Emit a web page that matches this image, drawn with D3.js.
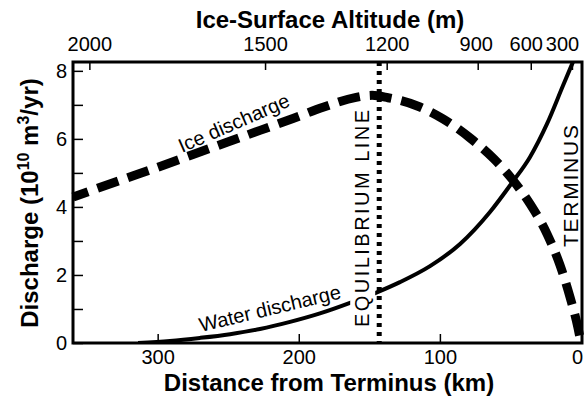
<!DOCTYPE html>
<html>
<head>
<meta charset="utf-8">
<script src="https://cdn.jsdelivr.net/npm/d3@7"></script>
<style>
  html, body { margin: 0; padding: 0; background: #fff; }
  svg { display: block; font-family: "Liberation Sans", Arial, Helvetica, sans-serif; }
</style>
</head>
<body>
<svg id="chart" width="586" height="406"></svg>
<script>
// ---- data ----
// distance from terminus (km) and ice discharge (10^10 m^3/yr)
const iceDistance = [360, 345.8, 321.7, 298.3, 275, 250.9, 227.5, 204.1, 182.8, 159.4, 148.1, 136.8, 115.5, 97.8, 78.7, 61.7, 48.9, 36.1, 24.1, 14.9, 7.8, 2.1, 0];
const iceDischarge = [4.29, 4.50, 4.85, 5.19, 5.54, 5.90, 6.25, 6.60, 6.93, 7.22, 7.28, 7.21, 6.96, 6.59, 6.03, 5.41, 4.82, 4.09, 3.21, 2.29, 1.35, 0.44, 0.0];
// distance from terminus (km) and water discharge (10^10 m^3/yr)
const waterDistance = [313.9, 291.3, 270.0, 248.7, 227.5, 206.2, 185.0, 163.7, 144.6, 128.3, 107.0, 85.7, 64.5, 48.9, 36.1, 24.1, 12.8, 5.7];
const waterDischarge = [0.0, 0.06, 0.15, 0.26, 0.41, 0.62, 0.87, 1.18, 1.49, 1.79, 2.26, 2.91, 3.85, 4.71, 5.47, 6.44, 7.56, 8.26];
// axis ticks
const distanceTicks = [300, 200, 100, 0];
const dischargeTicks = [0, 1, 2, 3, 4, 5, 6, 7, 8];
const altitudeLabels = ["2000", "1500", "1200", "900", "600", "300"];
const altitudeTickDistance = [348.4, 223.9, 137.7, 73.2, 35.6, 6.4];
const equilibriumDistance = 143;

// ---- layout ----
const svg = d3.select("#chart");
const L = 73, R = 582, T = 62, B = 343;
const x = d3.scaleLinear().domain([360, 0]).range([L, 581]);
const y = d3.scaleLinear().domain([0, 8.26]).range([B, T]);
const tickFont = "20px";

svg.append("defs").append("clipPath").attr("id", "plot")
  .append("rect").attr("x", L).attr("y", T).attr("width", R - L).attr("height", B - T);

// curves
const line = d3.line().curve(d3.curveMonotoneX)
  .x(d => x(d[0])).y(d => y(d[1]));
const water = waterDistance.map((d, i) => [d, waterDischarge[i]]);
const ice = iceDistance.map((d, i) => [d, iceDischarge[i]]);

svg.append("path").attr("d", line(water)).attr("fill", "none")
  .attr("stroke", "#000").attr("stroke-width", 4).attr("clip-path", "url(#plot)");

svg.append("path").attr("d", line(ice)).attr("fill", "none")
  .attr("stroke", "#000").attr("stroke-width", 9)
  .attr("stroke-dasharray", "22,10").attr("stroke-dashoffset", 6);

// knock-out label: EQUILIBRIUM LINE
const xe = x(equilibriumDistance);
svg.append("rect").attr("x", xe - 29).attr("y", 106).attr("width", 25).attr("height", 226).attr("fill", "#fff");
svg.append("text")
  .attr("transform", `translate(${xe - 10.5},${218.5}) rotate(-90)`)
  .attr("text-anchor", "middle").attr("font-size", "20px")
  .attr("textLength", 217).attr("lengthAdjust", "spacing")
  .text("EQUILIBRIUM LINE");

// equilibrium dotted line
svg.append("line").attr("x1", xe).attr("x2", xe).attr("y1", T).attr("y2", B)
  .attr("stroke", "#000").attr("stroke-width", 5).attr("stroke-dasharray", "4,5");

// TERMINUS label
svg.append("text")
  .attr("transform", `translate(578,186) rotate(-90)`)
  .attr("text-anchor", "middle").attr("font-size", "21px")
  .attr("textLength", 122).attr("lengthAdjust", "spacing")
  .text("TERMINUS");

// curve labels
svg.append("text").attr("transform", "translate(182,153) rotate(-23.5)")
  .attr("font-size", "20px").attr("textLength", 119).attr("lengthAdjust", "spacing")
  .text("Ice discharge");
svg.append("text").attr("transform", "translate(201,332) rotate(-13.5)")
  .attr("font-size", "20px").attr("textLength", 145).attr("lengthAdjust", "spacing")
  .text("Water discharge");

// axes
const yAxis = d3.axisLeft(y).tickValues(dischargeTicks).tickSize(-10).tickPadding(6)
  .tickFormat(d => d % 2 === 0 ? d : "");
const gy = svg.append("g").attr("transform", `translate(${L},0)`).call(yAxis);

const xAxis = d3.axisBottom(x).tickValues(distanceTicks).tickSize(-9).tickPadding(7)
  .tickFormat(d3.format("d"));
const gx = svg.append("g").attr("transform", `translate(0,${B})`).call(xAxis);
gx.selectAll(".tick").filter(d => d === 0).select("line").remove();
gx.selectAll(".tick").filter(d => d === 0).select("text").attr("dx", -4);

const xTop = d3.scaleLinear().domain([360, 0]).range([L, 581]);
const topAxis = d3.axisTop(xTop).tickValues(altitudeTickDistance).tickSize(-8).tickPadding(11)
  .tickFormat((d, i) => altitudeLabels[i]);
const gt = svg.append("g").attr("transform", `translate(0,${T})`).call(topAxis);
gt.selectAll(".tick text").attr("dx", (d, i) => i === 3 ? -2 : i === 4 ? -5 : (i === 5 ? -10 : 0));

[gy, gx, gt].forEach(g => {
  g.select(".domain").remove();
  g.selectAll(".tick line").attr("stroke", "#000").attr("stroke-width", 1.5);
  g.selectAll(".tick text").attr("fill", "#000").attr("font-size", tickFont)
    .attr("font-family", "'Liberation Sans', Arial, sans-serif");
});

// frame
svg.append("rect").attr("x", L).attr("y", T).attr("width", R - L).attr("height", B - T)
  .attr("fill", "none").attr("stroke", "#000").attr("stroke-width", 3);

// titles
svg.append("text").attr("x", 330).attr("y", 28).attr("text-anchor", "middle")
  .attr("font-size", "24px").attr("font-weight", "bold").text("Ice-Surface Altitude (m)");
svg.append("text").attr("x", 329).attr("y", 391).attr("text-anchor", "middle")
  .attr("font-size", "24px").attr("font-weight", "bold").text("Distance from Terminus (km)");

const yl = svg.append("text").attr("transform", "translate(38,203) rotate(-90)")
  .attr("text-anchor", "middle").attr("font-size", "24px").attr("font-weight", "bold");
yl.append("tspan").text("Discharge (10");
yl.append("tspan").attr("font-size", "16px").attr("dy", -9).text("10");
yl.append("tspan").attr("dy", 9).text(" m");
yl.append("tspan").attr("font-size", "16px").attr("dy", -9).text("3");
yl.append("tspan").attr("dy", 9).text("/yr)");
</script>
</body>
</html>
